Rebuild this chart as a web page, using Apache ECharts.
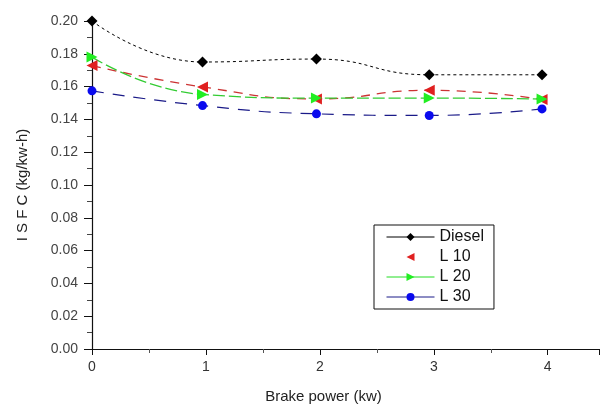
<!DOCTYPE html>
<html><head><meta charset="utf-8">
<script src="https://cdn.jsdelivr.net/npm/echarts@6/dist/echarts.min.js"></script>
<style>html,body{margin:0;padding:0;background:#fff}#c{width:602px;height:409px}</style>
</head><body><div id="c"></div>
<script>
var brakePower = [0, 0.97, 1.97, 2.96, 3.95];
var seriesNames = ['Diesel', 'L 10', 'L 20', 'L 30'];
var diesel = [0.200, 0.175, 0.1768, 0.1672, 0.1672];
var l10 = [0.1728, 0.1598, 0.1525, 0.1578, 0.1522];
var l20 = [0.1780, 0.1552, 0.1530, 0.1530, 0.1524];
var l30 = [0.1574, 0.1484, 0.1434, 0.1424, 0.1464];
var xTicks = [0, 1, 2, 3, 4];

function pairs(v){ return v.map(function(y,i){ return [brakePower[i], y]; }); }
var font = 'Liberation Sans, Arial, sans-serif';
var chart = echarts.init(document.getElementById('c'), null, {renderer:'canvas'});
chart.setOption({
  animation:false,
  backgroundColor:'#fff',
  grid:{left:92, right:2, top:21, bottom:55, containLabel:false},
  xAxis:{type:'value', min:0, max:4.45, interval:1,
    name:'Brake power (kw)', nameLocation:'middle', nameGap:40,
    nameTextStyle:{fontFamily:font, fontSize:15, color:'#222', padding:[0,44,0,0]},
    axisLine:{lineStyle:{color:'#111', width:1.2}},
    axisTick:{show:true, inside:false, length:6, lineStyle:{color:'#111'}},
    minorTick:{show:true, splitNumber:2, length:4, lineStyle:{color:'#555'}},
    axisLabel:{fontFamily:font, fontSize:14, color:'#333', margin:11,
      formatter:function(v){ return xTicks.indexOf(v)>=0 ? String(v) : ''; }},
    splitLine:{show:false}
  },
  yAxis:{type:'value', min:0, max:0.2, interval:0.02,
    name:'I S F C (kg/kw-h)', nameLocation:'middle', nameGap:62,
    nameTextStyle:{fontFamily:font, fontSize:15, color:'#222'},
    axisLine:{show:true, lineStyle:{color:'#111', width:1.2}},
    axisTick:{show:true, inside:false, length:8, lineStyle:{color:'#111'}},
    minorTick:{show:true, splitNumber:2, length:5, lineStyle:{color:'#444'}},
    axisLabel:{fontFamily:font, fontSize:14, color:'#444', margin:14,
      formatter:function(v){ return v.toFixed(2); }},
    splitLine:{show:false}
  },
  legend:{orient:'vertical', left:374, top:225, width:131,
    backgroundColor:'#fff', borderColor:'#111', borderWidth:1,
    padding:[4,10,4,12], itemWidth:48, itemHeight:10, itemGap:4,
    textStyle:{fontFamily:font, fontSize:16, color:'#111'},
    data:[
      {name:'Diesel', lineStyle:{type:'solid', color:'#000', width:1}},
      {name:'L 10', lineStyle:{opacity:0, width:0}},
      {name:'L 20', lineStyle:{type:'solid', color:'#22dd22', width:1}},
      {name:'L 30', lineStyle:{type:'solid', color:'#1a1a88', width:1}}
    ]
  },
  series:[
    {name:seriesNames[0], type:'line', smooth:0.5, data:pairs(diesel),
      symbol:'diamond', symbolSize:11, itemStyle:{color:'#000'},
      lineStyle:{color:'#000', width:1, type:[3,3]}},
    {name:seriesNames[1], type:'line', smooth:0.5, data:pairs(l10),
      symbol:'triangle', symbolRotate:90, symbolSize:11, itemStyle:{color:'#e02020'},
      lineStyle:{color:'#cc3333', width:1.3, type:[9,7]}},
    {name:seriesNames[2], type:'line', smooth:0.5, data:pairs(l20),
      symbol:'triangle', symbolRotate:-90, symbolSize:11, itemStyle:{color:'#22ee22'},
      lineStyle:{color:'#33cc33', width:1.3, type:[12,4]}},
    {name:seriesNames[3], type:'line', smooth:0.5, data:pairs(l30),
      symbol:'circle', symbolSize:9, itemStyle:{color:'#0a0aee'},
      lineStyle:{color:'#1a1a88', width:1.2, type:[12,9]}}
  ]
});
</script></body></html>
